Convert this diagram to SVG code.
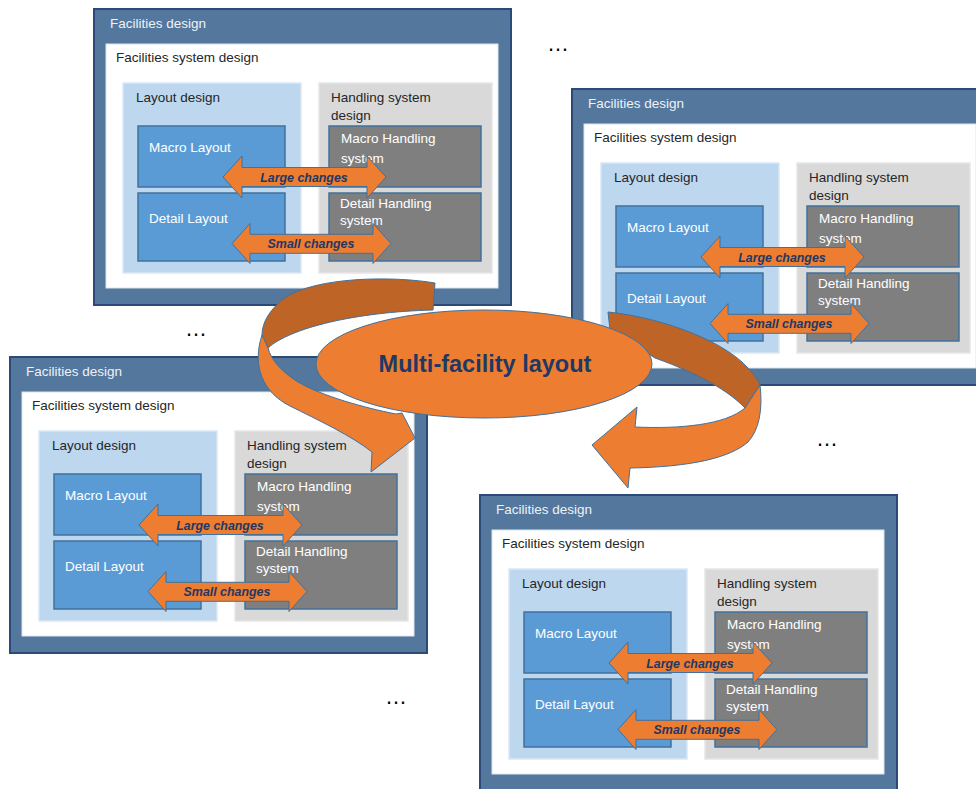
<svg xmlns="http://www.w3.org/2000/svg" width="976" height="789" viewBox="0 0 976 789">
<style>
text{font-family:"Liberation Sans",Arial,sans-serif;font-size:13.5px}
.outer{fill:#54779D;stroke:#2B4A78;stroke-width:2}
.inner{fill:#FFFFFF;stroke:#DCE6F2;stroke-width:1}
.lay{fill:#BDD7EE;stroke:#DAE8F5;stroke-width:1.5}
.hand{fill:#D9D9D9;stroke:#E6E6E6;stroke-width:1.5}
.blue{fill:#5B9BD5;stroke:#41719C;stroke-width:1.5}
.gray{fill:#7F7F7F;stroke:#41719C;stroke-width:1.5}
.t-head{fill:#EEF2F7}
.t-dark{fill:#262626}
.t-white{fill:#FFFFFF}
.dbl{fill:#ED7D31;stroke:#41719C;stroke-width:1}
.lbl{font-weight:bold;font-style:italic;font-size:12.4px;fill:#1F3864;text-anchor:middle}
.front{fill:#ED7D31;stroke:#41719C;stroke-width:1}
.back{fill:#BE6427;stroke:#41719C;stroke-width:1}
.dots{font-size:22px;fill:#000;text-anchor:middle}
</style>

<g id="panel-top-left" transform="translate(94,9)">
  <rect class="outer" x="0" y="0" width="417" height="296"/>
  <text class="t-head" x="16" y="19">Facilities design</text>
  <rect class="inner" x="12" y="35" width="392" height="244"/>
  <text class="t-dark" x="22" y="53">Facilities system design</text>
  <rect class="lay" x="29" y="74" width="178" height="190"/>
  <text class="t-dark" x="42" y="93">Layout design</text>
  <rect class="hand" x="225" y="74" width="173" height="190"/>
  <text class="t-dark" x="237" y="93">Handling system</text>
  <text class="t-dark" x="237" y="111">design</text>
  <rect class="blue" x="44" y="117" width="147" height="61"/>
  <text class="t-white" x="55" y="143">Macro Layout</text>
  <rect class="blue" x="44" y="184" width="147" height="68"/>
  <text class="t-white" x="55" y="214">Detail Layout</text>
  <rect class="gray" x="235" y="117" width="152" height="61"/>
  <text class="t-white" x="247" y="134">Macro Handling</text>
  <text class="t-white" x="247" y="154">system</text>
  <rect class="gray" x="235" y="184" width="152" height="68"/>
  <text class="t-white" x="246" y="199">Detail Handling</text>
  <text class="t-white" x="246" y="216">system</text>
  <path class="dbl" d="M129,168 L148,147 L148,158.5 L273,158.5 L273,147 L292,168 L273,189 L273,177.5 L148,177.5 L148,189 Z"/>
  <text class="lbl" x="210" y="173">Large changes</text>
  <path class="dbl" d="M138,234.5 L156,214.5 L156,225.3 L279,225.3 L279,214.5 L297,234.5 L279,254.5 L279,244.3 L156,244.3 L156,254.5 Z"/>
  <text class="lbl" x="217" y="239">Small changes</text>
</g>

<g id="panel-top-right" transform="translate(572,89)">
  <rect class="outer" x="0" y="0" width="417" height="296"/>
  <text class="t-head" x="16" y="19">Facilities design</text>
  <rect class="inner" x="12" y="35" width="392" height="244"/>
  <text class="t-dark" x="22" y="53">Facilities system design</text>
  <rect class="lay" x="29" y="74" width="178" height="190"/>
  <text class="t-dark" x="42" y="93">Layout design</text>
  <rect class="hand" x="225" y="74" width="173" height="190"/>
  <text class="t-dark" x="237" y="93">Handling system</text>
  <text class="t-dark" x="237" y="111">design</text>
  <rect class="blue" x="44" y="117" width="147" height="61"/>
  <text class="t-white" x="55" y="143">Macro Layout</text>
  <rect class="blue" x="44" y="184" width="147" height="68"/>
  <text class="t-white" x="55" y="214">Detail Layout</text>
  <rect class="gray" x="235" y="117" width="152" height="61"/>
  <text class="t-white" x="247" y="134">Macro Handling</text>
  <text class="t-white" x="247" y="154">system</text>
  <rect class="gray" x="235" y="184" width="152" height="68"/>
  <text class="t-white" x="246" y="199">Detail Handling</text>
  <text class="t-white" x="246" y="216">system</text>
  <path class="dbl" d="M129,168 L148,147 L148,158.5 L273,158.5 L273,147 L292,168 L273,189 L273,177.5 L148,177.5 L148,189 Z"/>
  <text class="lbl" x="210" y="173">Large changes</text>
  <path class="dbl" d="M138,234.5 L156,214.5 L156,225.3 L279,225.3 L279,214.5 L297,234.5 L279,254.5 L279,244.3 L156,244.3 L156,254.5 Z"/>
  <text class="lbl" x="217" y="239">Small changes</text>
</g>

<g id="panel-bottom-left" transform="translate(10,357)">
  <rect class="outer" x="0" y="0" width="417" height="296"/>
  <text class="t-head" x="16" y="19">Facilities design</text>
  <rect class="inner" x="12" y="35" width="392" height="244"/>
  <text class="t-dark" x="22" y="53">Facilities system design</text>
  <rect class="lay" x="29" y="74" width="178" height="190"/>
  <text class="t-dark" x="42" y="93">Layout design</text>
  <rect class="hand" x="225" y="74" width="173" height="190"/>
  <text class="t-dark" x="237" y="93">Handling system</text>
  <text class="t-dark" x="237" y="111">design</text>
  <rect class="blue" x="44" y="117" width="147" height="61"/>
  <text class="t-white" x="55" y="143">Macro Layout</text>
  <rect class="blue" x="44" y="184" width="147" height="68"/>
  <text class="t-white" x="55" y="214">Detail Layout</text>
  <rect class="gray" x="235" y="117" width="152" height="61"/>
  <text class="t-white" x="247" y="134">Macro Handling</text>
  <text class="t-white" x="247" y="154">system</text>
  <rect class="gray" x="235" y="184" width="152" height="68"/>
  <text class="t-white" x="246" y="199">Detail Handling</text>
  <text class="t-white" x="246" y="216">system</text>
  <path class="dbl" d="M129,168 L148,147 L148,158.5 L273,158.5 L273,147 L292,168 L273,189 L273,177.5 L148,177.5 L148,189 Z"/>
  <text class="lbl" x="210" y="173">Large changes</text>
  <path class="dbl" d="M138,234.5 L156,214.5 L156,225.3 L279,225.3 L279,214.5 L297,234.5 L279,254.5 L279,244.3 L156,244.3 L156,254.5 Z"/>
  <text class="lbl" x="217" y="239">Small changes</text>
</g>

<g id="panel-bottom-right" transform="translate(480,495)">
  <rect class="outer" x="0" y="0" width="417" height="296"/>
  <text class="t-head" x="16" y="19">Facilities design</text>
  <rect class="inner" x="12" y="35" width="392" height="244"/>
  <text class="t-dark" x="22" y="53">Facilities system design</text>
  <rect class="lay" x="29" y="74" width="178" height="190"/>
  <text class="t-dark" x="42" y="93">Layout design</text>
  <rect class="hand" x="225" y="74" width="173" height="190"/>
  <text class="t-dark" x="237" y="93">Handling system</text>
  <text class="t-dark" x="237" y="111">design</text>
  <rect class="blue" x="44" y="117" width="147" height="61"/>
  <text class="t-white" x="55" y="143">Macro Layout</text>
  <rect class="blue" x="44" y="184" width="147" height="68"/>
  <text class="t-white" x="55" y="214">Detail Layout</text>
  <rect class="gray" x="235" y="117" width="152" height="61"/>
  <text class="t-white" x="247" y="134">Macro Handling</text>
  <text class="t-white" x="247" y="154">system</text>
  <rect class="gray" x="235" y="184" width="152" height="68"/>
  <text class="t-white" x="246" y="199">Detail Handling</text>
  <text class="t-white" x="246" y="216">system</text>
  <path class="dbl" d="M129,168 L148,147 L148,158.5 L273,158.5 L273,147 L292,168 L273,189 L273,177.5 L148,177.5 L148,189 Z"/>
  <text class="lbl" x="210" y="173">Large changes</text>
  <path class="dbl" d="M138,234.5 L156,214.5 L156,225.3 L279,225.3 L279,214.5 L297,234.5 L279,254.5 L279,244.3 L156,244.3 L156,254.5 Z"/>
  <text class="lbl" x="217" y="239">Small changes</text>
</g>

<g id="connectors">
  <g id="cycle-arrow-left">
    <path class="back" d="M435,283 C395,276 315,276 283,299 C270,310 262,322 262,335 L268,348 C290,328 355,312 433,310 Z"/>
    <path class="front" d="M262,335 C252,365 262,392 290,406 C318,420 352,436 372,452 L371,472 L415,438 L402,413 L396,414 C365,408 322,396 298,382 C282,372 271,360 268,348 Z"/>
  </g>
  <g id="cycle-arrow-right">
    <path class="back" d="M608,312 C665,318 725,342 748,368 C755,376 759,381 760,385 L745,408 C730,392 700,374 655,358 L610,330 Z"/>
    <path class="front" d="M760,385 C763,410 759,430 748,442 C730,458 690,467 630,468 L628,488 L592,445 L637,407 L635,427 C680,429 725,425 745,408 Z"/>
  </g>
</g>

<g id="center-node">
  <ellipse cx="484" cy="364" rx="168" ry="54" fill="#ED7D31" stroke="#41719C" stroke-width="1"/>
  <text x="485" y="372" text-anchor="middle" style="font-weight:bold;font-size:23.5px;fill:#1F3864">Multi-facility layout</text>
</g>

<g id="ellipses">
  <text class="dots" x="558" y="51">…</text>
  <text class="dots" x="196" y="336">…</text>
  <text class="dots" x="827" y="446">…</text>
  <text class="dots" x="396" y="704">…</text>
</g>
</svg>
